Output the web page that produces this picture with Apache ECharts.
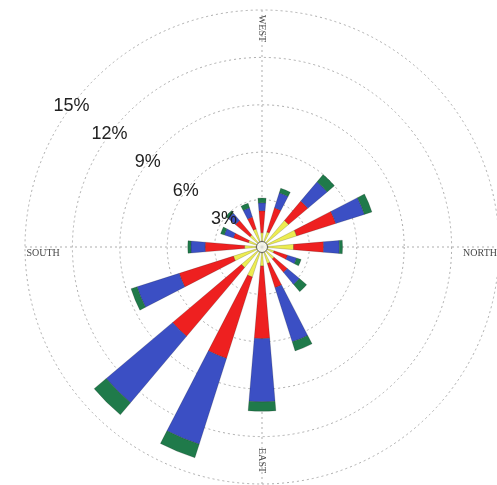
<!DOCTYPE html>
<html>
<head>
<meta charset="utf-8">
<script src="https://cdn.jsdelivr.net/npm/echarts@6/dist/echarts.min.js"></script>
<style>
html,body{margin:0;padding:0;background:#fff;}
#chart{width:497px;height:485px;}
</style>
</head>
<body>
<div id="chart"></div>
<script>
// Directions, clockwise from the top of the plot
const directions = ['W','WNW','NW','NNW','N','NNE','NE','ENE','E','ESE','SE','SSE','S','SSW','SW','WSW'];
// Stacked frequency (%) per direction, from inner to outer class
const class1 = [0.9, 1.0, 2.2, 2.3, 2.0, 0.8, 1.0, 1.1, 1.2, 2.0, 1.7, 1.9, 1.1, 0.9, 1.0, 1.2];   // yellow
const class2 = [1.4, 1.6, 1.6, 2.6, 1.9, 0.9, 1.1, 1.6, 4.6, 5.4, 5.7, 3.6, 2.5, 1.0, 1.2, 0.8];   // red
const class3 = [0.5, 1.0, 1.6, 1.9, 1.0, 0.6, 1.0, 3.6, 4.0, 5.7, 5.5, 2.8, 0.9, 0.6, 0.6, 0.6];   // blue
const class4 = [0.3, 0.3, 0.6, 0.5, 0.2, 0.3, 0.6, 0.6, 0.6, 0.9, 1.0, 0.4, 0.2, 0.25, 0.2, 0.3]; // green
const ringTicks = [3, 6, 9, 12, 15];
const cardinalLabels = ['WEST', 'NORTH', 'EAST', 'SOUTH'];

const chart = echarts.init(document.getElementById('chart'), null, {renderer: 'canvas'});
const C = [262, 247], R = 237;
const grid = {color: '#adadad', width: 1, type: [2, 3]};
const classColors = ['#ecec52', '#ee2020', '#3b4fc4', '#1f7a4a'];
const classes = [class1, class2, class3, class4];

const labelOffsets = [[-6, 0], [0, 6], [-6, 0], [0, 6]];
const labelRadii = [13.45, 13.8, 13.9, 13.85];
const labelAngles = [0, 90, 180, 270];

const option = {
  animation: false,
  backgroundColor: '#ffffff',
  polar: [
    {center: C, radius: [0, R]},
    {center: C, radius: [0, R]},
    {center: C, radius: [0, R]}
  ],
  angleAxis: [
    {polarIndex: 0, type: 'category', data: directions, startAngle: 101.25, clockwise: true,
     axisLine: {show: false}, axisTick: {show: false}, axisLabel: {show: false}, splitLine: {show: false}},
    {polarIndex: 1, type: 'value', min: 0, max: 360, interval: 90, startAngle: 90, clockwise: true,
     axisLine: {show: false}, axisTick: {show: false}, axisLabel: {show: false},
     splitLine: {show: true, lineStyle: grid}},
    {polarIndex: 2, type: 'value', min: 0, max: 360, startAngle: 143.5, clockwise: true,
     axisLine: {show: false}, axisTick: {show: false}, axisLabel: {show: false}, splitLine: {show: false}}
  ],
  radiusAxis: [
    {polarIndex: 0, type: 'value', min: 0, max: 15, axisLine: {show: false}, axisTick: {show: false},
     axisLabel: {show: false}, splitLine: {show: false}},
    {polarIndex: 1, type: 'value', min: 0, max: 15, interval: 3, axisLine: {show: false}, axisTick: {show: false},
     axisLabel: {show: false}, splitLine: {show: true, lineStyle: grid}},
    {polarIndex: 2, type: 'value', min: 0, max: ringTicks[ringTicks.length - 1], interval: 3, z: 10,
     axisLine: {show: false}, axisTick: {show: false}, splitLine: {show: false},
     axisLabel: {show: true, showMinLabel: false, formatter: '{value}%', fontSize: 18,
       fontFamily: 'Liberation Sans, Arial, sans-serif', color: '#222', margin: 0,
       align: 'center', verticalAlign: 'middle'}}
  ],
  series: classes.map((vals, i) => ({
    type: 'bar', coordinateSystem: 'polar', polarIndex: 0, stack: 'rose',
    data: vals, barCategoryGap: '57%', silent: true,
    itemStyle: {color: classColors[i], borderColor: 'rgba(0,0,0,0.35)', borderWidth: 0.5}
  })).concat([
    {type: 'scatter', coordinateSystem: 'polar', polarIndex: 1, silent: true, z: 5,
     data: [[0, 0]], symbol: 'circle', symbolSize: 11,
     itemStyle: {color: '#ffffff', borderColor: '#444', borderWidth: 1}},
    {type: 'scatter', coordinateSystem: 'polar', polarIndex: 1, silent: true, z: 6,
     symbolSize: 1, itemStyle: {color: 'rgba(0,0,0,0)'},
     data: cardinalLabels.map((name, i) => ({
       name: name, value: [labelRadii[i], labelAngles[i]],
       label: {offset: labelOffsets[i], rotate: (i % 2 === 0) ? -90 : 0}
     })),
     label: {show: true, position: 'inside', formatter: '{b}', color: '#111', fontSize: 10,
       fontFamily: 'Liberation Serif, Times New Roman, serif', align: 'center', verticalAlign: 'middle'}}
  ])
};
chart.setOption(option);
</script>
</body>
</html>
